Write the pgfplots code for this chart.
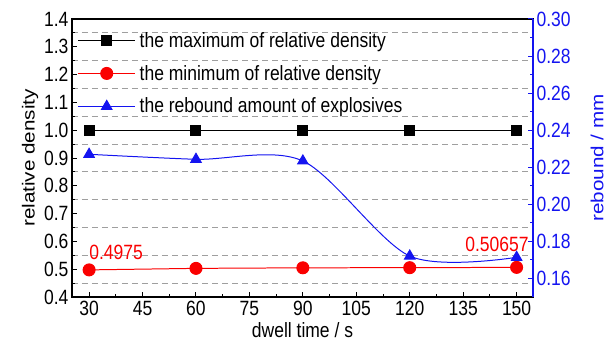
\documentclass[border=0pt]{standalone}
\usepackage{pgfplots}
\pgfplotsset{compat=1.18}
\usepackage{fontspec}
\setmainfont{Liberation Sans}
\definecolor{myblue}{RGB}{20,20,240}
\definecolor{myred}{RGB}{250,0,0}
\begin{document}
\begin{tikzpicture}[font=\fontsize{17.5bp}{20bp}\selectfont]
\useasboundingbox (-72bp,-49bp) rectangle (539bp,297bp);
\begin{axis}[
  scale only axis, width=461bp, height=278bp,
  at={(0,0)}, anchor=south west,
  xmin=25.2, xmax=154.6, ymin=0.4, ymax=1.4,
  xtick={30,45,60,75,90,105,120,135,150}, minor x tick num=1,
  ytick={0.4,0.5,0.6,0.7,0.8,0.9,1.0,1.1,1.2,1.3,1.4}, minor y tick num=1,
  /pgf/number format/assume math mode=true,
  yticklabel style={yscale=1.18, /pgf/number format/.cd,fixed,fixed zerofill,precision=1},
  xticklabel style={yscale=1.18},
  xtick pos=bottom, ytick pos=left, tick align=inside,
  major tick length=5bp, minor tick length=3bp,
  tick style={black, line width=1pt},
  axis line style={black, line width=1.3pt},
  yminorgrids=true,
  minor grid style={dash pattern=on 6bp off 4bp, gray!75, line width=0.9pt},
  xlabel={dwell time / s}, ylabel={relative density},
  xlabel style={yscale=1.18, at={(axis description cs:0.5,-0.1187)}, anchor=center},
  ylabel style={xscale=1.18, at={(axis description cs:-0.0911,0.5)}, anchor=center},
  legend style={at={(axis description cs:0.012,0.962)}, anchor=north west,
    draw=none, fill=none, row sep=11.5bp, inner sep=0pt,
    nodes={inner sep=2bp, anchor=west, yscale=1.18}},
  legend cell align=left,
  legend image code/.code={\draw[mark repeat=2,mark phase=2] plot coordinates {(0bp,0bp)(28.5bp,0bp)(57bp,0bp)};},
]
\addplot[black, line width=1pt, mark=square*, mark size=5bp, mark options={solid}]
  coordinates {(30,1.0)(60,1.0)(90,1.0)(120,1.0)(150,1.0)};
\addlegendentry{\hspace{2bp}the maximum of relative density}
\addplot[myred, line width=1pt, mark=*, mark size=6bp]
  coordinates {(30,0.4975)(60,0.503)(90,0.505)(120,0.5055)(150,0.50657)};
\addlegendentry{\hspace{2bp}the minimum of relative density}
\addlegendimage{myblue, line width=1pt, mark=triangle*, mark size=6bp}
\addlegendentry{\hspace{2bp}the rebound amount of explosives}
\node[myred, anchor=west, inner sep=0pt, yscale=1.18] at (axis cs:30,0.562) {0.4975};
\node[myred, anchor=east, inner sep=0pt, yscale=1.18] at (axis cs:153.4,0.59) {0.50657};
\end{axis}
\begin{axis}[
  scale only axis, width=461bp, height=278bp,
  at={(0,0)}, anchor=south west,
  xmin=25.2, xmax=154.6, ymin=0.15, ymax=0.30,
  axis x line=none, axis y line*=right,
  ytick={0.16,0.18,0.20,0.22,0.24,0.26,0.28,0.30}, minor y tick num=1,
  /pgf/number format/assume math mode=true,
  yticklabel style={myblue, yscale=1.18, /pgf/number format/.cd,fixed,fixed zerofill,precision=2},
  tick align=inside,
  major tick length=5bp, minor tick length=3bp,
  tick style={myblue, line width=1pt},
  y axis line style={myblue, line width=1.3pt, -},
  ylabel={rebound / mm},
  ylabel style={myblue, xscale=1.18, at={(axis description cs:1.139,0.5)}, anchor=center},
]
\addplot[myblue, line width=1pt, smooth, mark=triangle*, mark size=6bp]
  coordinates {(30,0.227)(60,0.2243)(90,0.2234)(120,0.1721)(150,0.1714)};
\end{axis}
\end{tikzpicture}
\end{document}
